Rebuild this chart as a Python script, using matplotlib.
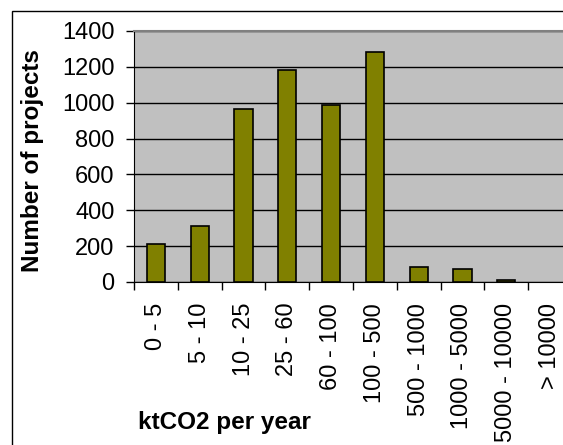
import matplotlib
matplotlib.use("Agg")
import matplotlib.pyplot as plt
from matplotlib.patches import Rectangle
import numpy as np

plt.rcParams['font.family'] = ['Liberation Sans', 'DejaVu Sans']

categories = ["0 - 5", "5 - 10", "10 - 25", "25 - 60", "60 - 100", "100 - 500",
              "500 - 1000", "1000 - 5000", "5000 - 10000", "> 10000"]
projects = [210, 312, 963, 1181, 987, 1281, 84, 74, 10, 0]
y_ticks = [0, 200, 400, 600, 800, 1000, 1200, 1400]

W, H = 563, 445
fig = plt.figure(figsize=(W / 100, H / 100), dpi=100)
fig.patch.set_facecolor('white')

# chart-area frame
fig.add_artist(Rectangle((12 / W, -0.2), 2.0, 1.2 - 11 / H,
                         transform=fig.transFigure, fill=False,
                         ec='black', lw=1.0))

left, right, bottom, top = 134, 572, 282, 31
ax = fig.add_axes([left / W, 1 - bottom / H, (right - left) / W, (bottom - top) / H])
ax.set_facecolor('#C0C0C0')

x = np.arange(len(categories))
edge_widths = [1.2 if v > 0 else 0 for v in projects]
ax.bar(x, projects, width=0.42, color='#808000', edgecolor='black',
       linewidth=edge_widths, zorder=3)

ax.set_xlim(-0.5, len(categories) - 0.5)
ax.set_ylim(0, 1400)
ax.set_yticks(y_ticks)
ax.set_yticklabels([str(v) for v in y_ticks], fontsize=17)
ax.yaxis.grid(True, color='black', lw=1.0)
ax.set_axisbelow(True)

ax.set_xticks(x)
ax.set_xticklabels(categories, rotation=90, fontsize=17, va='top', ha='center')
ax.set_xticks(np.arange(len(categories) + 1) - 0.5, minor=True)
ax.tick_params(axis='x', which='major', length=0, pad=15)
ax.tick_params(axis='x', which='minor', length=6, width=1, color='black')
ax.tick_params(axis='y', length=6, width=1, pad=8, color='black')

for s in ['top', 'right']:
    ax.spines[s].set_color('#808080')
    ax.spines[s].set_linewidth(1.5)
ax.spines['left'].set_color('black')
ax.spines['bottom'].set_color('black')

ax.set_ylabel("Number of projects", fontsize=17.5, fontweight='bold', va='center')
ax.yaxis.set_label_coords(-0.231, 0.482)
ax.set_xlabel("ktCO2 per year", fontsize=17.5, fontweight='bold', ha='left', va='center')
ax.xaxis.set_label_coords(0.009, -0.558)

fig.savefig("out.png", dpi=100)
